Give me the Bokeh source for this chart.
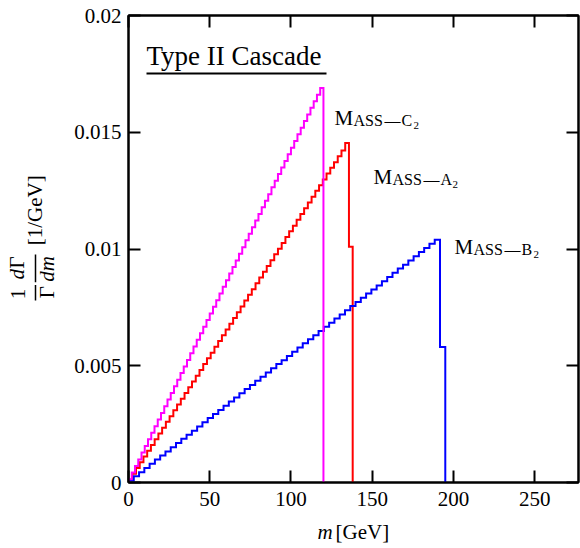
import math
import numpy as np
from bokeh.plotting import figure
from bokeh.layouts import row, column
from bokeh.models import Range1d, LinearAxis, FixedTicker, CustomJSTickFormatter
from bokeh.core.properties import value
from bokeh.embed import file_html
from bokeh.resources import INLINE

# ---------------- data ----------------
bin_width_c2 = 2.0
bin_width_a2 = 2.3
bin_width_b2 = 3.25

mass_c2 = [0.00014, 0.00043, 0.00071, 0.00099, 0.00128, 0.00156, 0.00185, 0.00213, 0.00241, 0.00270,
           0.00298, 0.00327, 0.00355, 0.00383, 0.00412, 0.00440, 0.00469, 0.00497, 0.00525, 0.00554,
           0.00582, 0.00611, 0.00639, 0.00667, 0.00696, 0.00724, 0.00753, 0.00781, 0.00809, 0.00838,
           0.00866, 0.00895, 0.00923, 0.00951, 0.00980, 0.01008, 0.01037, 0.01065, 0.01093, 0.01122,
           0.01150, 0.01179, 0.01207, 0.01235, 0.01264, 0.01292, 0.01321, 0.01349, 0.01377, 0.01406,
           0.01434, 0.01463, 0.01491, 0.01519, 0.01548, 0.01576, 0.01605, 0.01633, 0.01661, 0.01690]

mass_a2 = [0.00012, 0.00037, 0.00062, 0.00087, 0.00111, 0.00136, 0.00161, 0.00185, 0.00210, 0.00235,
           0.00260, 0.00284, 0.00309, 0.00334, 0.00359, 0.00383, 0.00408, 0.00433, 0.00457, 0.00482,
           0.00507, 0.00532, 0.00556, 0.00581, 0.00606, 0.00631, 0.00655, 0.00680, 0.00705, 0.00729,
           0.00754, 0.00779, 0.00804, 0.00828, 0.00853, 0.00878, 0.00903, 0.00927, 0.00952, 0.00977,
           0.01001, 0.01026, 0.01051, 0.01076, 0.01100, 0.01125, 0.01150, 0.01174, 0.01199, 0.01224,
           0.01249, 0.01273, 0.01298, 0.01323, 0.01348, 0.01372, 0.01397, 0.01422, 0.01454, 0.01010]

mass_b2 = [0.00009, 0.00027, 0.00044, 0.00062, 0.00080, 0.00098, 0.00116, 0.00133, 0.00151, 0.00169,
           0.00187, 0.00204, 0.00222, 0.00240, 0.00258, 0.00276, 0.00293, 0.00311, 0.00329, 0.00347,
           0.00364, 0.00382, 0.00400, 0.00418, 0.00436, 0.00453, 0.00471, 0.00489, 0.00507, 0.00524,
           0.00542, 0.00560, 0.00578, 0.00596, 0.00613, 0.00631, 0.00649, 0.00667, 0.00684, 0.00702,
           0.00720, 0.00738, 0.00756, 0.00773, 0.00791, 0.00809, 0.00827, 0.00844, 0.00862, 0.00880,
           0.00898, 0.00916, 0.00933, 0.00951, 0.00969, 0.00987, 0.01004, 0.01022, 0.01040, 0.00580]

xticks = [0, 50, 100, 150, 200, 250]
xtick_labels = ["0", "50", "100", "150", "200", "250"]
yticks = [0, 0.005, 0.01, 0.015, 0.02]
ytick_labels = ["0", "0.005", "0.01", "0.015", "0.02"]

X_MIN, X_MAX = 0, 277
Y_MIN, Y_MAX = 0, 0.02

FONT = "Liberation Serif"
BASE_SHIFT = 0.4     # em; lifts glyph text so its baseline sits on the wanted row

# ---------------- layout geometry (page pixels) ----------------
W_YLAB = 58          # strip holding the rotated y-axis label
H_XLAB = 30          # strip holding the x-axis label
PAGE_W, PAGE_H = 580, 548
MAIN_W, MAIN_H = PAGE_W - W_YLAB, PAGE_H - H_XLAB

# ---------------- main figure ----------------
p = figure(width=MAIN_W, height=MAIN_H, output_backend="svg", toolbar_location=None,
           x_range=Range1d(X_MIN, X_MAX), y_range=Range1d(Y_MIN, Y_MAX),
           min_border_left=70, min_border_right=2, min_border_top=15, min_border_bottom=36,
           background_fill_color="white", border_fill_color="white")
p.grid.visible = False
p.outline_line_color = "black"
p.outline_line_width = 2


def style_axis(ax, ticks, labels, show_labels=True):
    ax.ticker = FixedTicker(ticks=ticks)
    ax.major_tick_in = 12
    ax.major_tick_out = 0
    ax.minor_tick_line_color = None
    ax.major_tick_line_width = 2
    ax.major_tick_line_color = "black"
    ax.axis_line_width = 2
    ax.axis_line_color = "black"
    ax.major_label_text_font = FONT
    ax.major_label_text_color = "black"
    ax.major_label_text_font_size = "21px"
    if show_labels:
        ax.formatter = CustomJSTickFormatter(args=dict(labels=labels), code="return labels[index];")
    else:
        ax.formatter = CustomJSTickFormatter(code="return '';")
        ax.major_label_standoff = 0


style_axis(p.xaxis[0], xticks, xtick_labels)
p.xaxis[0].major_label_standoff = 9
style_axis(p.yaxis[0], yticks, ytick_labels)
p.yaxis[0].major_label_standoff = 7

right_ax = LinearAxis()
style_axis(right_ax, yticks, ytick_labels, show_labels=False)
p.add_layout(right_ax, "right")
top_ax = LinearAxis()
style_axis(top_ax, xticks, xtick_labels, show_labels=False)
p.add_layout(top_ax, "above")


def outline(vals, w):
    edges = list(np.arange(len(vals) + 1) * w)
    xs = [0.0] + edges
    ys = [0.0] + list(vals) + [0.0]
    return xs, ys


for vals, w, col in [(mass_a2, bin_width_a2, "#ff0000"),
                     (mass_b2, bin_width_b2, "#0000ff"),
                     (mass_c2, bin_width_c2, "#ff00ff")]:
    xs, ys = outline(vals, w)
    p.step(xs, ys, mode="after", line_color=col, line_width=2, line_join="miter")

# ---------------- in-frame annotations (page-pixel placement) ----------------
FL, FR, FT, FB = 128, 578, 15, 482


def dx(px):
    return X_MIN + (px - FL) * (X_MAX - X_MIN) / (FR - FL)


def dy(py):
    return Y_MIN + (FB - py) * (Y_MAX - Y_MIN) / (FB - FT)


def txt(fig, conv_x, conv_y, px, py, s, size, style="normal", align="left",
        baseline="alphabetic", angle=0.0):
    if baseline == "alphabetic":
        py = py - BASE_SHIFT * size
    fig.text(x=[conv_x(px)], y=[conv_y(py)], text=[s], text_font=value(FONT),
             text_font_size=value(f"{size}px"), text_font_style=style,
             text_align=align, text_baseline=baseline, angle=angle, text_color="black")


def mtxt(px, py, s, size, **kw):
    txt(p, dx, dy, px, py, s, size, **kw)


# title with underline
mtxt(146, 66, "Type II Cascade", 27)
p.line(x=[dx(146), dx(326)], y=[dy(73), dy(73)], line_color="black", line_width=2)


def mass_label(x0, base, letter):
    mtxt(x0, base, "M", 21)
    mtxt(x0 + 19, base, "ASS", 16)
    mtxt(x0 + 50, base, "\u2014", 16)
    mtxt(x0 + 67, base, letter, 16)
    mtxt(x0 + 79, base + 3, "2", 11)


mass_label(334, 126, "C")
mass_label(373, 185, "A")
mass_label(454, 255, "B")


# ---------------- label strips ----------------
def strip(w, h, x0, y0):
    f = figure(width=w, height=h, output_backend="svg", toolbar_location=None,
               x_range=Range1d(x0, x0 + w), y_range=Range1d(y0 + h, y0),
               x_axis_type=None, y_axis_type=None, min_border=0,
               background_fill_color="white", border_fill_color="white")
    f.grid.visible = False
    f.outline_line_color = None
    return f


ident = lambda v: v

# y-axis label: (1/Γ)(dΓ/dm) [1/GeV], rotated
ylab = strip(W_YLAB, MAIN_H, 0, 0)
R = math.pi / 2
for px, py, s, st in [(17, 309, "1", "normal"), (46, 307, "\u0393", "normal"),
                      (16, 287, "d", "italic"), (16, 274, "\u0393", "normal"),
                      (46, 281, "dm", "italic")]:
    txt(ylab, ident, ident, px, py, s, 21, style=st, align="center", baseline="middle", angle=R)
ylab.segment(x0=[35, 35], y0=[299, 265], x1=[35, 35], y1=[316, 296], line_color="black", line_width=1.5)
txt(ylab, ident, ident, 34, 216, "[1/GeV]", 21, align="center", baseline="middle", angle=R)

# x-axis label: m [GeV]
xlab = strip(PAGE_W, H_XLAB, 0, MAIN_H)
txt(xlab, ident, ident, 317, 540, "m", 21, style="italic")
txt(xlab, ident, ident, 335, 540, "[GeV]", 21)

layout = column(row(ylab, p), xlab)
open("out.html", "w").write(file_html(layout, INLINE))
